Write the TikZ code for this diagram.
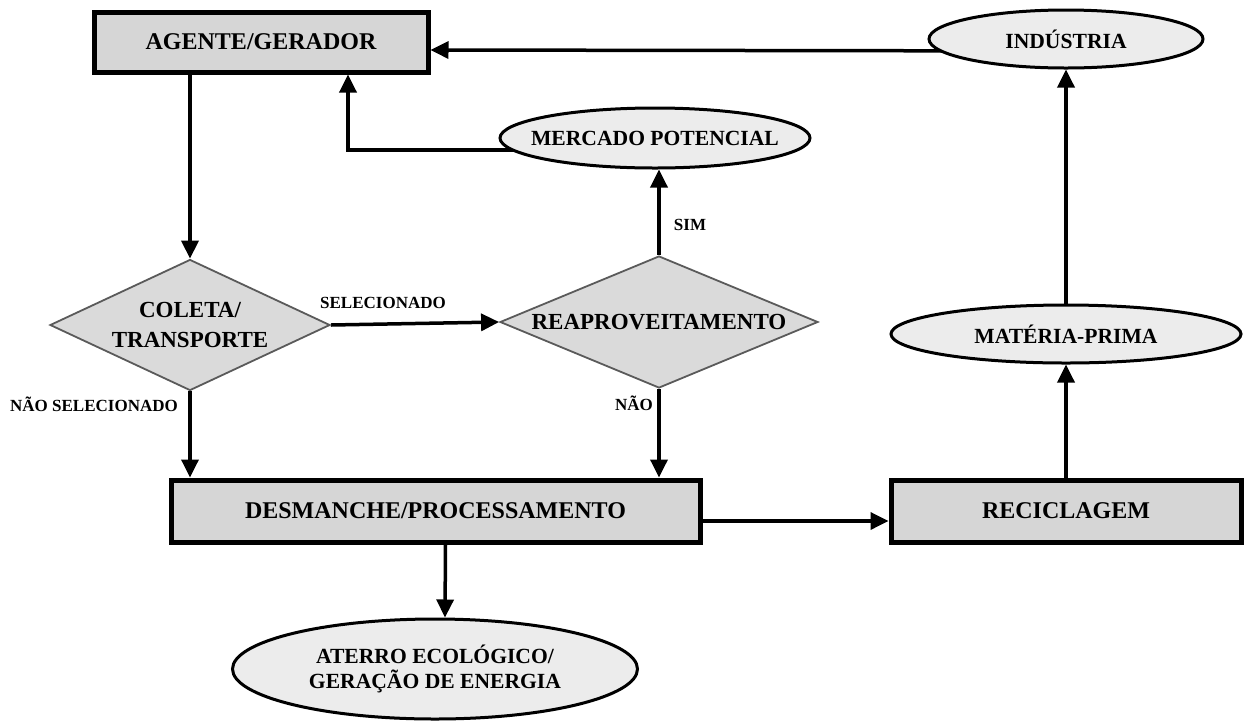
\documentclass[tikz,border=0pt]{standalone}
\usepackage{fontspec}
\setmainfont{Liberation Serif}
\usetikzlibrary{shapes.geometric,arrows.meta,backgrounds}
\definecolor{boxfill}{RGB}{214,214,214}
\definecolor{ellfill}{RGB}{236,236,236}
\definecolor{diafill}{RGB}{218,218,218}
\definecolor{diaedge}{RGB}{90,90,90}
\begin{document}
\begin{tikzpicture}[x=1pt,y=-1pt,
  box/.style={draw=black,line width=5pt,fill=boxfill,rectangle,inner sep=0pt,
    font=\fontsize{24}{26}\selectfont\bfseries},
  ell/.style={draw=black,line width=3pt,fill=ellfill,ellipse,inner sep=0pt,align=center,
    font=\fontsize{21.6}{25}\selectfont\bfseries},
  dia/.style={draw=diaedge,line width=1.8pt,fill=diafill,diamond,aspect=2.2,inner sep=0pt,align=center,
    font=\fontsize{23}{30}\selectfont\bfseries},
  arr/.style={line width=3.5pt,-{Triangle[length=18pt,width=17pt]}},
  lbl/.style={font=\fontsize{17}{19}\selectfont\bfseries,inner sep=0pt}]
\useasboundingbox (0,0) rectangle (1248,724);

% nodes
\node[box,minimum width=334pt,minimum height=60pt] (agente) at (261,42) {AGENTE/GERADOR};
\node[ell,minimum width=274pt,minimum height=58pt] (industria) at (1066,39) {\makebox[0pt][c]{INDÚSTRIA}};
\node[ell,minimum width=310pt,minimum height=60pt] (mercado) at (655,138) {\makebox[0pt][c]{MERCADO POTENCIAL}};
\node[dia,minimum width=280pt,minimum height=131pt] (coleta) at (190,325) {COLETA/\\TRANSPORTE};
\node[dia,minimum width=318pt,minimum height=132pt] (reap) at (659,322) {REAPROVEITAMENTO};
\node[box,minimum width=529pt,minimum height=62pt] (desm) at (435.5,511) {DESMANCHE/PROCESSAMENTO};
\node[box,minimum width=350pt,minimum height=62pt] (recic) at (1066,511) {RECICLAGEM};
\node[ell,minimum width=350pt,minimum height=58pt] (materia) at (1066,334) {\makebox[0pt][c]{MATÉRIA-PRIMA}};
\node[ell,minimum width=405pt,minimum height=100pt] (aterro) at (435,669) {ATERRO ECOLÓGICO/\\GERAÇÃO DE ENERGIA};

% labels
\node[lbl] (lsel) at (383,303) {SELECIONADO};
\node[lbl] (lnsel) at (94,404) {NÃO SELECIONADO};
\node[lbl] (lsim) at (690,225) {SIM};
\node[lbl] (lnao) at (634,403) {NÃO};

% connectors
\begin{scope}[on background layer]
\draw[arr] ([yshift=-12pt]industria.center) -- ([yshift=-8pt]agente.east);
\draw[arr] ([yshift=-12pt]mercado.center) -| ([xshift=87pt]agente.south);
\draw[arr] (coleta.north |- agente.south) -- (coleta.north);
\draw[arr] (coleta.east) -- (reap.west);
\draw[arr] (coleta.south) -- (coleta.south |- desm.north);
\draw[arr] (reap.north) -- (reap.north |- mercado.south);
\draw[arr] (reap.south) -- (reap.south |- desm.north);
\draw[arr] ([yshift=-10pt]desm.east) -- ([yshift=-10pt]recic.west);
\draw[arr] (recic.north) -- (materia.south);
\draw[arr] (materia.north) -- (industria.south);
\draw[arr] ([xshift=10pt]desm.south) -- ([xshift=10pt]aterro.north);
\end{scope}
\end{tikzpicture}
\end{document}
